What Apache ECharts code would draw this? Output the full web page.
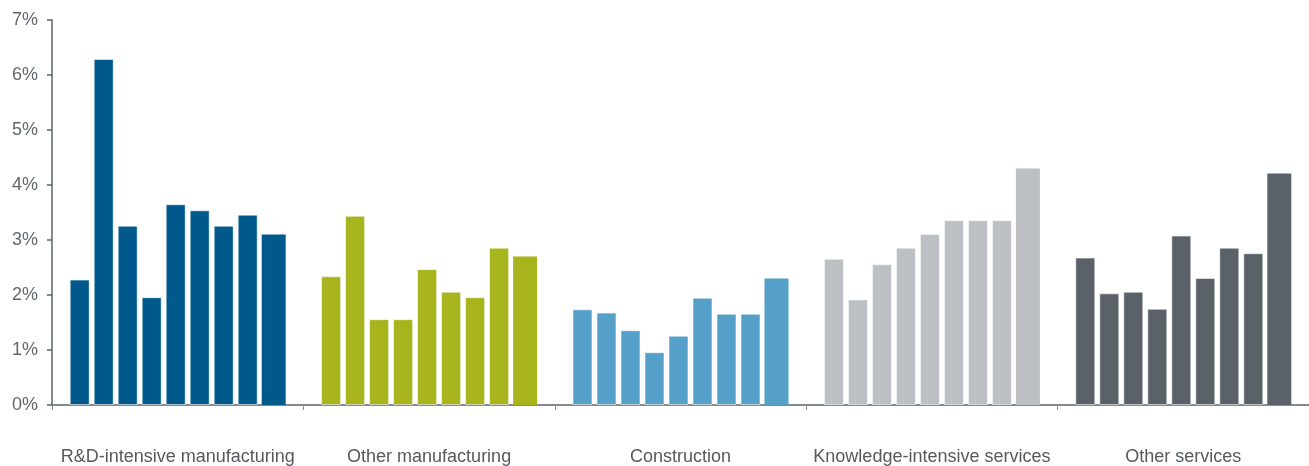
<!DOCTYPE html>
<html>
<head>
<meta charset="utf-8">
<title>Growth by sector</title>
<script src="https://cdn.jsdelivr.net/npm/echarts@6/dist/echarts.min.js"></script>
<style>
  html, body { margin: 0; padding: 0; background: #ffffff; }
  #chart { width: 1309px; height: 466px; }
</style>
</head>
<body>
<div id="chart"></div>
<script>
// Sector groups along the x axis
const categories = [
  'R&D-intensive manufacturing',
  'Other manufacturing',
  'Construction',
  'Knowledge-intensive services',
  'Other services'
];

// Nine periods per sector (percent)
const rdIntensive       = [2.28, 6.29, 3.26, 1.96, 3.65, 3.54, 3.26, 3.46, 3.10];
const otherManufacturing = [2.34, 3.44, 1.56, 1.56, 2.47, 2.06, 1.96, 2.86, 2.70];
const construction      = [1.74, 1.68, 1.36, 0.96, 1.26, 1.95, 1.66, 1.66, 2.30];
const knowledgeServices = [2.66, 1.92, 2.56, 2.86, 3.11, 3.36, 3.36, 3.36, 4.30];
const otherServices     = [2.68, 2.03, 2.06, 1.75, 3.08, 2.31, 2.86, 2.76, 4.21];

const sectorColors = ['#00598c', '#a7b41c', '#55a0c8', '#bcc0c4', '#5a6168'];
const yTicks = [0, 1, 2, 3, 4, 5, 6, 7];

const groups = [rdIntensive, otherManufacturing, construction, knowledgeServices, otherServices];
const periodCount = rdIntensive.length;

const series = [];
for (let p = 0; p < periodCount; p++) {
  const isLast = p === periodCount - 1;
  series.push({
    type: 'bar',
    name: 'P' + (p + 1),
    barWidth: isLast ? 24 : 20,
    barGap: '20%',
    animation: false,
    data: groups.map((g, c) => ({
      value: g[p],
      itemStyle: {
        color: sectorColors[c],
        borderColor: isLast ? 'transparent' : 'rgba(255,255,255,0.55)',
        borderWidth: isLast ? 0 : 1
      }
    }))
  });
}

const chart = echarts.init(document.getElementById('chart'), null, { renderer: 'canvas' });
chart.setOption({
  backgroundColor: '#ffffff',
  animation: false,
  grid: { left: 52, top: 20, bottom: 60, width: 1260, containLabel: false },
  xAxis: {
    type: 'category',
    data: categories,
    boundaryGap: true,
    axisLine: { show: true, lineStyle: { color: '#5e646a', width: 1.5 } },
    axisTick: { show: true, length: 5, lineStyle: { color: '#8a8f94', width: 1 } },
    axisLabel: {
      margin: 43,
      color: '#555a5f',
      fontFamily: 'Liberation Sans, Arial, sans-serif',
      fontSize: 18,
      interval: 0
    },
    splitLine: { show: false }
  },
  yAxis: {
    type: 'value',
    min: yTicks[0],
    max: yTicks[yTicks.length - 1],
    interval: 1,
    axisLine: { show: true, lineStyle: { color: '#5e646a', width: 1.5 } },
    axisTick: { show: true, length: 5, lineStyle: { color: '#5e646a', width: 1.5 } },
    axisLabel: {
      margin: 14,
      color: '#62676c',
      fontFamily: 'Liberation Sans, Arial, sans-serif',
      fontSize: 18,
      formatter: '{value}%'
    },
    splitLine: { show: false }
  },
  series: series
});
</script>
</body>
</html>
